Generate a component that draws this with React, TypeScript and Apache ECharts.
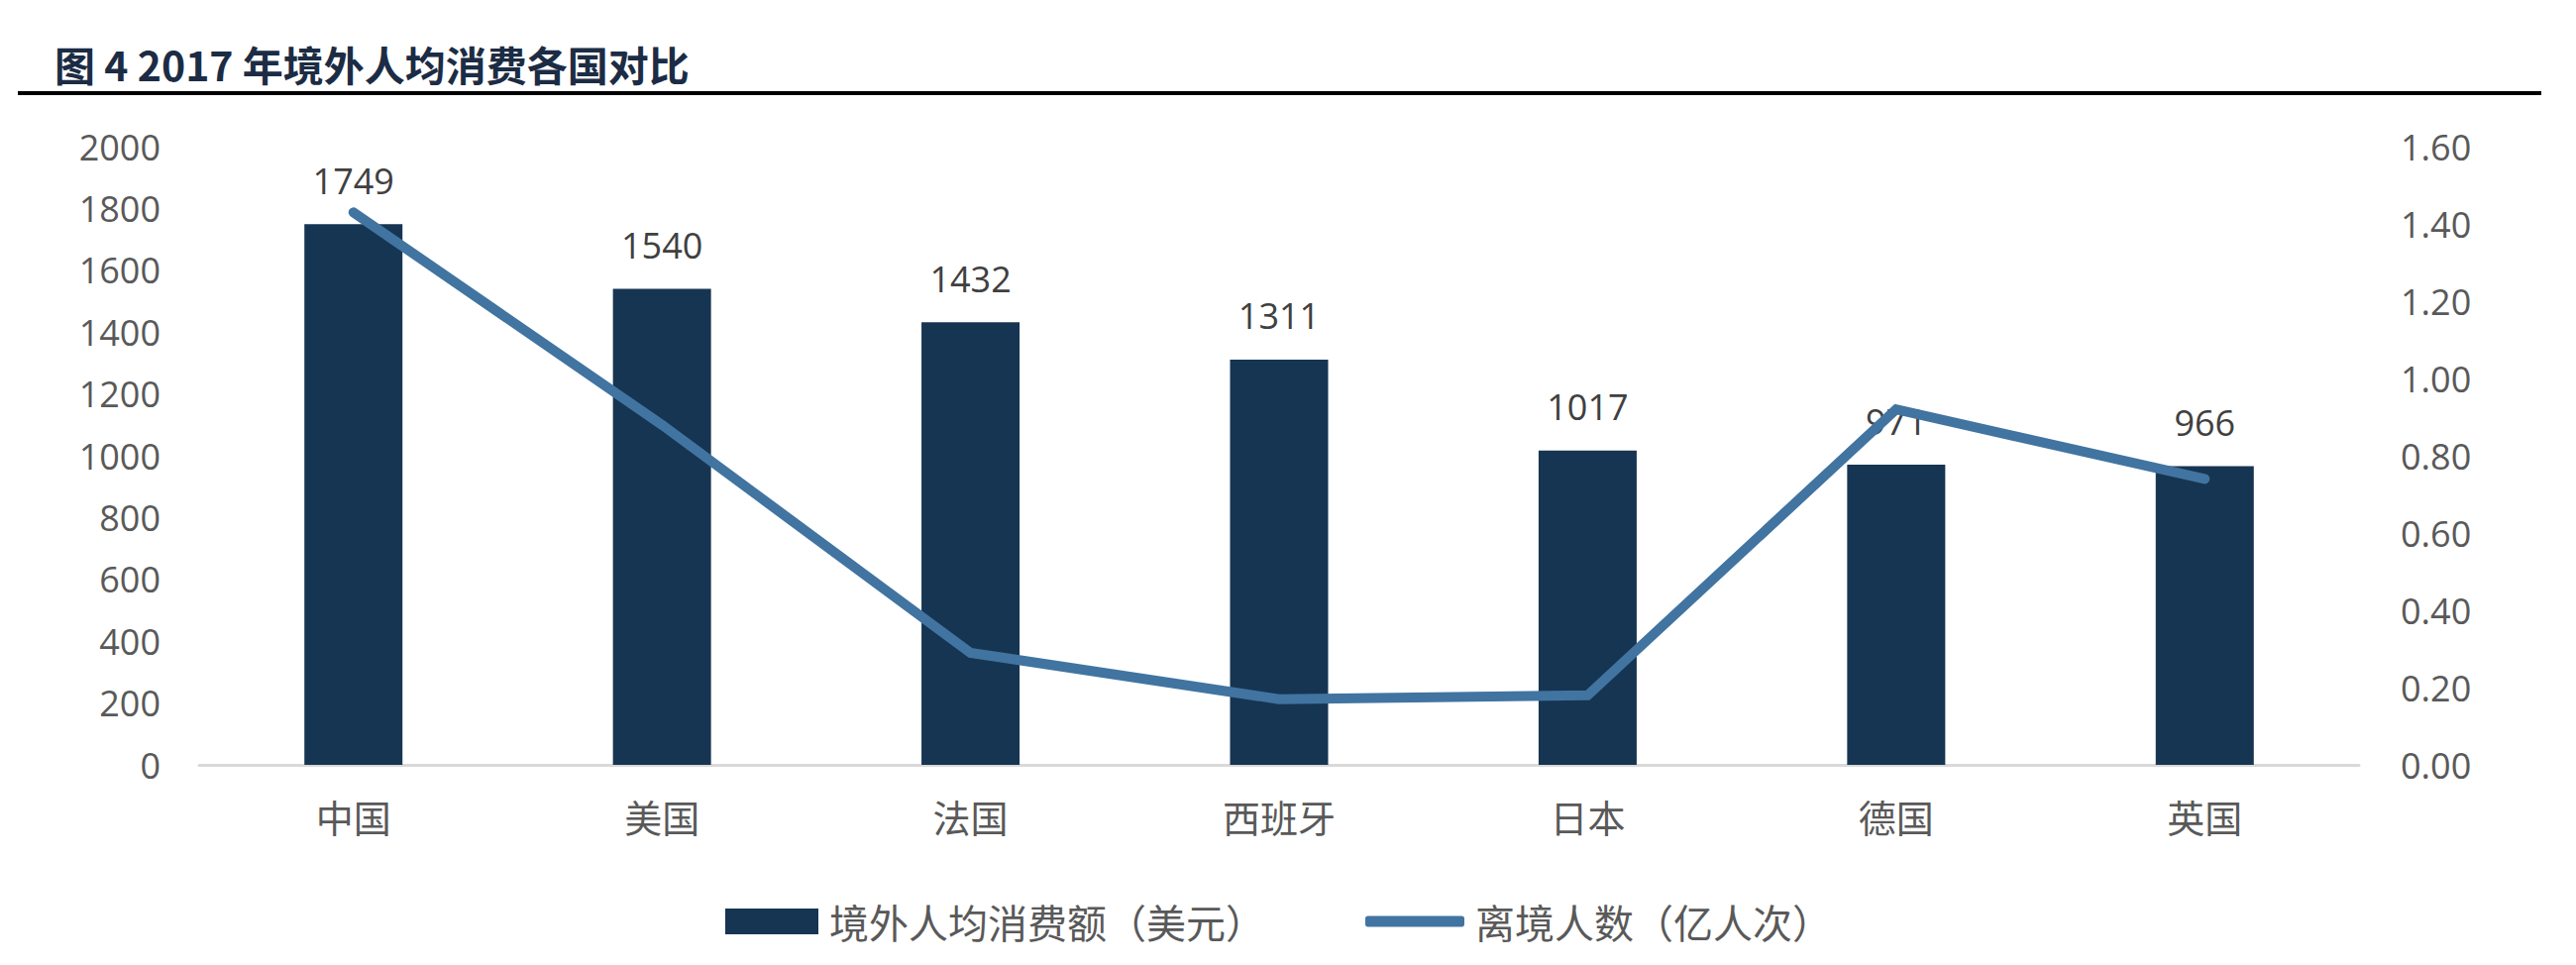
import React, { useEffect, useRef } from "react";
import * as echarts from "echarts";

// 2017 outbound spending per traveller vs number of departures
const countries = ["中国", "美国", "法国", "西班牙", "日本", "德国", "英国"];
const spendPerCapita = [1749, 1540, 1432, 1311, 1017, 971, 966];
const departures = [1.43, 0.88, 0.29, 0.17, 0.18, 0.92, 0.74];

const SPEND_NAME = "境外人均消费额（美元）";
const TRIPS_NAME = "离境人数（亿人次）";
const TITLE = "图 4 2017 年境外人均消费各国对比";

const CJK = '"Noto Sans CJK SC", "Noto Sans", sans-serif';
const NUM = '"Open Sans", "Noto Sans", sans-serif';
const BAR_COLOR = "#163552";
const LINE_COLOR = "#4174a0";
const LABEL_GRAY = "#595959";

export default function App() {
    const containerRef = useRef<HTMLDivElement | null>(null);

    useEffect(() => {
        if (!containerRef.current) return;
        const inst = echarts.init(containerRef.current, undefined, { renderer: "svg" });

        const option: echarts.EChartsOption = {
            animation: false,
            backgroundColor: "#ffffff",
            title: {
                text: TITLE,
                left: 50,
                top: 38,
                textStyle: { fontFamily: CJK, fontSize: 41, fontWeight: "bold", color: "#1c2c44" },
            },
            graphic: [
                {
                    type: "line",
                    shape: { x1: 18, y1: 94, x2: 2565, y2: 94 },
                    style: { stroke: "#000000", lineWidth: 4 },
                },
            ],
            legend: [
                {
                    data: [{ name: SPEND_NAME, itemStyle: { color: BAR_COLOR, borderWidth: 0 } }],
                    left: 727,
                    top: 905,
                    itemWidth: 94,
                    itemHeight: 26,
                    icon: "rect",
                    textStyle: { fontFamily: CJK, fontSize: 40, color: LABEL_GRAY, padding: [0, 0, 0, 6] },
                },
                {
                    data: [{ name: TRIPS_NAME, itemStyle: { color: LINE_COLOR, borderWidth: 0 } }],
                    left: 1373,
                    top: 905,
                    itemWidth: 100,
                    itemHeight: 11,
                    icon: "roundRect",
                    textStyle: { fontFamily: CJK, fontSize: 40, color: LABEL_GRAY, padding: [0, 0, 0, 6] },
                },
            ],
            grid: { left: 201, right: 219, top: 148, bottom: 202 },
            xAxis: {
                type: "category",
                data: countries,
                axisLine: { lineStyle: { color: "#d9d9d9", width: 3 } },
                axisTick: { show: false },
                axisLabel: { fontFamily: CJK, fontSize: 38, color: LABEL_GRAY, margin: 32 },
            },
            yAxis: [
                {
                    type: "value",
                    min: 0,
                    max: 2000,
                    interval: 200,
                    splitLine: { show: false },
                    axisLine: { show: false },
                    axisTick: { show: false },
                    axisLabel: {
                        fontFamily: NUM,
                        fontSize: 36,
                        color: LABEL_GRAY,
                        margin: 39,
                        formatter: (v: number) => String(v),
                    },
                },
                {
                    type: "value",
                    min: 0,
                    max: 1.6,
                    interval: 0.2,
                    splitLine: { show: false },
                    axisLine: { show: false },
                    axisTick: { show: false },
                    axisLabel: {
                        fontFamily: NUM,
                        fontSize: 36,
                        color: LABEL_GRAY,
                        margin: 42,
                        formatter: (v: number) => v.toFixed(2),
                    },
                },
            ],
            series: [
                {
                    type: "bar",
                    name: SPEND_NAME,
                    data: spendPerCapita,
                    barWidth: 99,
                    itemStyle: { color: BAR_COLOR },
                    label: {
                        show: true,
                        position: "top",
                        distance: 26,
                        fontFamily: NUM,
                        fontSize: 36,
                        color: "#404040",
                    },
                    z: 2,
                },
                {
                    type: "line",
                    name: TRIPS_NAME,
                    yAxisIndex: 1,
                    data: departures,
                    color: LINE_COLOR,
                    symbol: "none",
                    showSymbol: false,
                    lineStyle: { color: LINE_COLOR, width: 10, cap: "round", join: "miter" },
                    z: 5,
                },
            ],
        };

        inst.setOption(option);

        return () => {
            inst.dispose();
        };
    }, []);

    return (
        <div
            ref={containerRef}
            style={{ position: "absolute", left: 0, top: 0, width: 2600, height: 974, background: "#fff" }}
        />
    );
}
